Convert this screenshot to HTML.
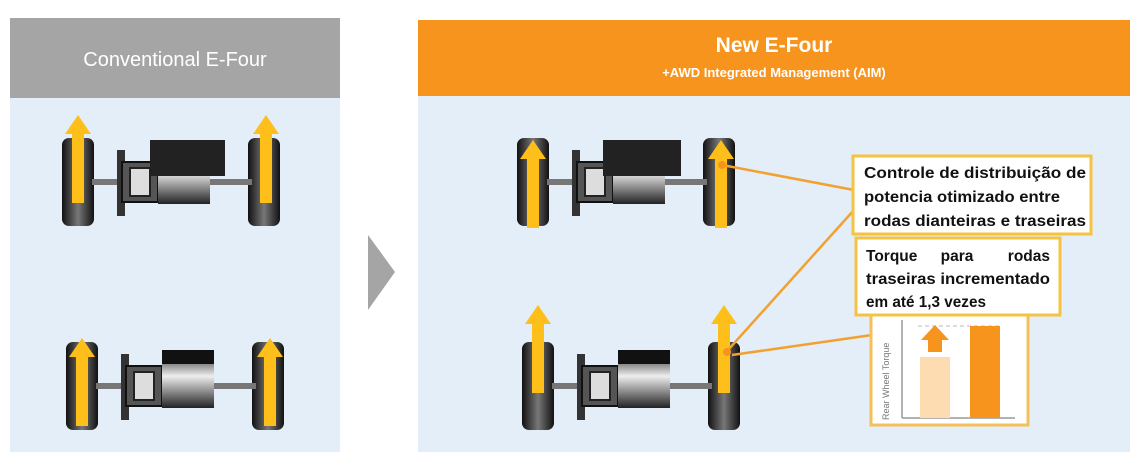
<!DOCTYPE html>
<html><head><meta charset="utf-8"><style>
body{margin:0;width:1140px;height:472px;background:#fff;overflow:hidden}
svg{display:block}
</style></head><body>
<svg width="1140" height="472" viewBox="0 0 1140 472" font-family="Liberation Sans, sans-serif">
<defs>
<linearGradient id="tire" x1="0" x2="1"><stop offset="0" stop-color="#111"/><stop offset=".5" stop-color="#777"/><stop offset="1" stop-color="#111"/></linearGradient>
<linearGradient id="mot" x1="0" y1="0" x2="0" y2="1"><stop offset="0" stop-color="#111"/><stop offset=".45" stop-color="#eee"/><stop offset="1" stop-color="#222"/></linearGradient>
<g id="ax">
 <rect x="0" y="0" width="32" height="88" rx="7" fill="url(#tire)"/>
 <rect x="186" y="0" width="32" height="88" rx="7" fill="url(#tire)"/>
 <rect x="30" y="41" width="160" height="6" fill="#777"/>
 <rect x="55" y="12" width="8" height="66" fill="#333"/>
 <rect x="60" y="24" width="36" height="40" fill="#555" stroke="#111" stroke-width="2"/>
 <rect x="68" y="30" width="20" height="28" fill="#ddd" stroke="#222" stroke-width="2"/>
 <rect x="96" y="8" width="52" height="58" fill="url(#mot)"/>
 <rect x="96" y="8" width="52" height="14" fill="#111"/>
</g>
<g id="arr"><rect x="-6" y="18" width="12" height="70" fill="#ffbf1a"/><polygon points="-13,19 0,0 13,19" fill="#ffbf1a"/></g>
</defs>
<rect x="10" y="18" width="330" height="434" fill="#e3eef9"/>
<rect x="10" y="18" width="330" height="80" fill="#a5a5a5"/>
<text x="175" y="66" font-size="20" fill="#fff" text-anchor="middle">Conventional E-Four</text>
<polygon points="368,235 395,272 368,310" fill="#a5a5a5"/>
<rect x="418" y="20" width="712" height="432" fill="#e3eef9"/>
<rect x="418" y="20" width="712" height="76" fill="#f7941d"/>
<text x="774" y="52" font-size="21" font-weight="bold" fill="#fff" text-anchor="middle">New E-Four</text>
<text x="774" y="77" font-size="13" font-weight="bold" fill="#fff" text-anchor="middle">+AWD Integrated Management (AIM)</text>
<use href="#ax" x="62" y="138"/>
<rect x="150" y="140" width="75" height="36" fill="#222"/>
<use href="#arr" x="78" y="115"/><use href="#arr" x="266" y="115"/>
<use href="#ax" x="66" y="342"/>
<use href="#arr" x="82" y="338"/><use href="#arr" x="270" y="338"/>
<use href="#ax" x="517" y="138"/>
<rect x="603" y="140" width="78" height="36" fill="#222"/>
<use href="#arr" x="533" y="140"/><use href="#arr" x="721" y="140"/>
<use href="#ax" x="522" y="342"/>
<use href="#arr" x="538" y="305"/><use href="#arr" x="724" y="305"/>
<g stroke="#f2a12e" stroke-width="2.5" fill="none">
<line x1="722" y1="165" x2="854" y2="190"/>
<line x1="728" y1="350" x2="854" y2="210"/>
<line x1="732" y1="355" x2="872" y2="335"/>
</g>
<circle cx="722" cy="165" r="4" fill="#f7941d"/><circle cx="727" cy="352" r="4" fill="#f7941d"/>
<rect x="871" y="315" width="157" height="110" fill="#fff" stroke="#f5c05a" stroke-width="3"/>
<text transform="translate(889,420) rotate(-90)" font-size="9" fill="#777">Rear Wheel Torque</text>
<line x1="902" y1="320" x2="902" y2="418" stroke="#999" stroke-width="1.5"/>
<line x1="902" y1="418" x2="1015" y2="418" stroke="#999" stroke-width="1.5"/>
<line x1="918" y1="326" x2="1000" y2="326" stroke="#bbb" stroke-dasharray="4,3"/>
<rect x="920" y="357" width="30" height="61" fill="#fcdcb0"/>
<rect x="970" y="326" width="30" height="92" fill="#f7941d"/>
<rect x="928" y="338" width="14" height="14" fill="#f7941d"/><polygon points="921,340 935,325 949,340" fill="#f7941d"/>
<rect x="853" y="156" width="238" height="78" fill="#fff" stroke="#f5c342" stroke-width="3"/>
<g font-size="15.5" font-weight="bold" fill="#111">
<text x="864" y="178" textLength="222" lengthAdjust="spacingAndGlyphs">Controle de distribuição de</text>
<text x="864" y="202" textLength="196" lengthAdjust="spacingAndGlyphs">potencia otimizado entre</text>
<text x="864" y="226" textLength="222" lengthAdjust="spacingAndGlyphs">rodas dianteiras e traseiras</text>
</g>
<rect x="856" y="238" width="204" height="77" fill="#fff" stroke="#f5c342" stroke-width="3"/>
<g font-size="15.5" font-weight="bold" fill="#111">
<text x="866" y="261">Torque</text><text x="957" y="261" text-anchor="middle">para</text><text x="1050" y="261" text-anchor="end">rodas</text>
<text x="866" y="284" textLength="184" lengthAdjust="spacingAndGlyphs">traseiras  incrementado</text>
<text x="866" y="307" textLength="120" lengthAdjust="spacingAndGlyphs">em até 1,3 vezes</text>
</g>
</svg>
</body></html>
